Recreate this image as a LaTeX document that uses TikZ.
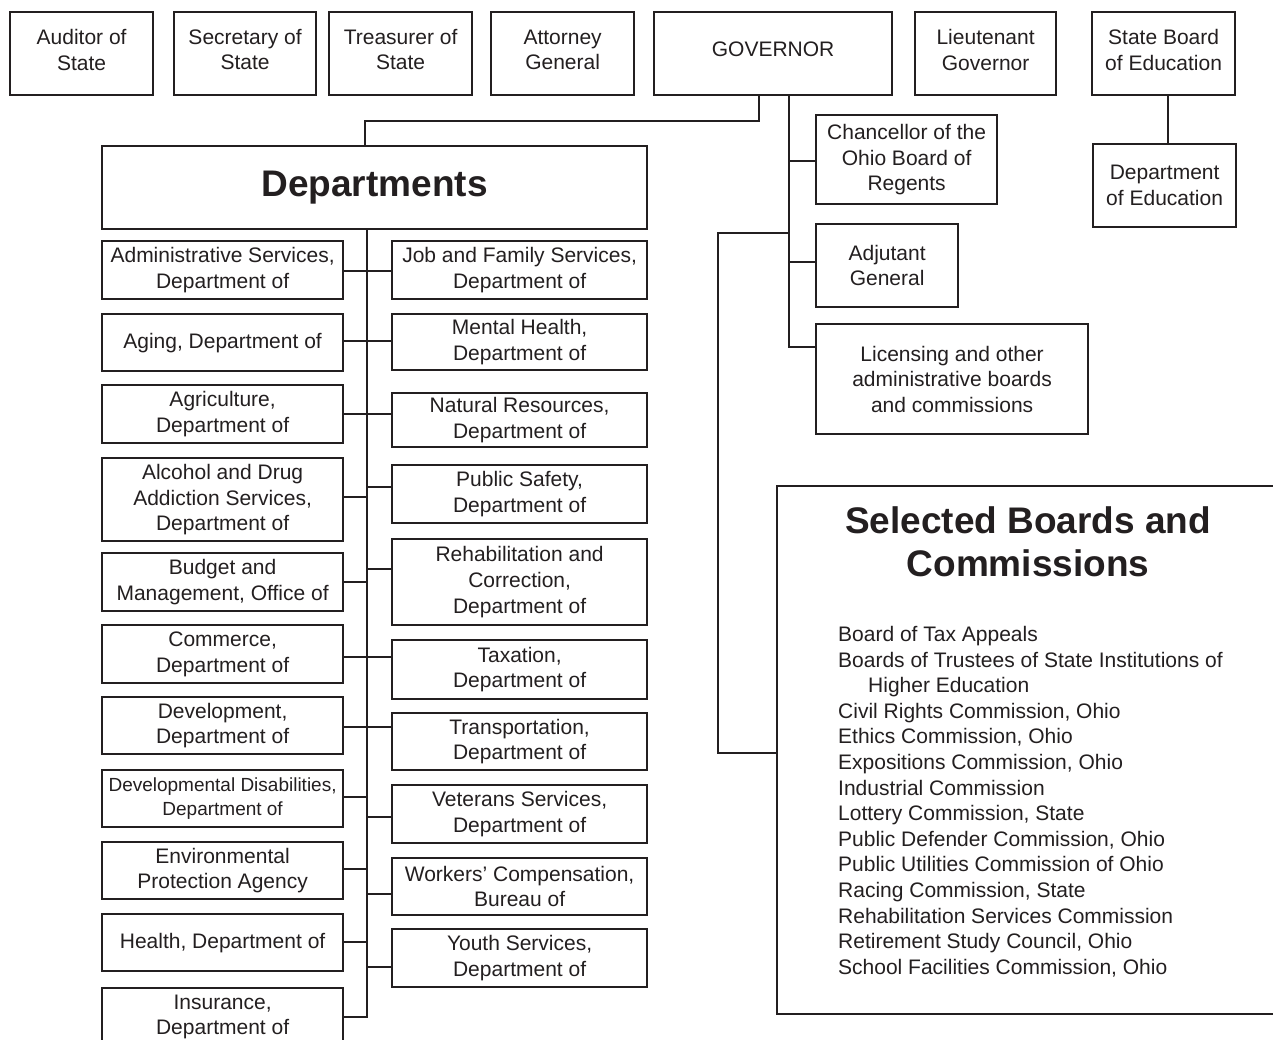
\documentclass[tikz,border=0pt]{standalone}
\usepackage{fontspec}
\setmainfont{Liberation Sans}
\definecolor{lc}{HTML}{231F20}
\tikzset{
  x=1pt, y=-1pt,
  ln/.style={line width=2.2pt, draw=lc},
  obx/.style={draw=lc, line width=2.2pt, inner sep=0pt, align=center, text=lc,
     anchor=north west, font=\fontsize{21}{25.6}\selectfont},
  toprow/.style={text depth=8pt},
}
\newcommand\obox[7][]{\node[obx, #1, minimum width={#5-#3}, minimum height={#6-#4}] (#2) at (#3,#4) {#7};}
\begin{document}
\begin{tikzpicture}
\useasboundingbox (0,0) rectangle (1273,1040);
\fill[white] (0,0) rectangle (1273,1040);
\clip (0,0) rectangle (1273,1040);

% top row
\obox[toprow]{aud}{9}{11}{152}{94}{Auditor of\\State}
\obox[toprow]{sec}{173}{11}{315}{94}{Secretary of\\State}
\obox[toprow]{tre}{328}{11}{471}{94}{Treasurer of\\State}
\obox[toprow]{att}{490}{11}{633}{94}{Attorney\\General}
\obox[toprow]{gov}{653}{11}{891}{94}{GOVERNOR}
\obox[toprow]{lt}{914}{11}{1055}{94}{Lieutenant\\Governor}
\obox[toprow]{sbe}{1091}{11}{1234}{94}{State Board\\of Education}
\obox{doe}{1092}{143}{1235}{226}{Department\\of Education}

% governor side
\obox{chan}{815}{114}{996}{203}{Chancellor of the\\Ohio Board of\\Regents}
\obox{adj}{815}{223}{957}{306}{Adjutant\\General}
\obox{lic}{815}{323}{1087}{433}{Licensing and other\\administrative boards\\and commissions}

% departments
\node[obx, minimum width=545, minimum height=83, font=\fontsize{37}{43}\selectfont\bfseries] (dep) at (101,145) {Departments};

% left column
\obox{adm}{101}{240}{342}{298}{Administrative Services,\\Department of}
\obox{agi}{101}{313}{342}{370}{Aging, Department of}
\obox{agr}{101}{384}{342}{442}{Agriculture,\\Department of}
\obox{alc}{101}{457}{342}{540}{Alcohol and Drug\\Addiction Services,\\Department of}
\obox{bud}{101}{552}{342}{610}{Budget and\\Management, Office of}
\obox{com}{101}{624}{342}{682}{Commerce,\\Department of}
\obox{dev}{101}{696}{342}{753}{Development,\\Department of}
\node[obx, minimum width=241, minimum height=57, font=\fontsize{19}{24}\selectfont] (dds) at (101,769) {Developmental Disabilities,\\Department of};
\obox{env}{101}{841}{342}{898}{Environmental\\Protection Agency}
\obox{hea}{101}{913}{342}{970}{Health, Department of}
\obox{ins}{101}{987}{342}{1045}{Insurance,\\Department of}

% right column
\obox{job}{391}{240}{646}{298}{Job and Family Services,\\Department of}
\obox{men}{391}{313}{646}{369}{Mental Health,\\Department of}
\obox{nat}{391}{392}{646}{446}{Natural Resources,\\Department of}
\obox{pub}{391}{464}{646}{522}{Public Safety,\\Department of}
\obox{reh}{391}{538}{646}{624}{Rehabilitation and\\Correction,\\Department of}
\obox{tax}{391}{639}{646}{698}{Taxation,\\Department of}
\obox{tra}{391}{712}{646}{769}{Transportation,\\Department of}
\obox{vet}{391}{784}{646}{842}{Veterans Services,\\Department of}
\obox{wor}{391}{857}{646}{914}{Workers’ Compensation,\\Bureau of}
\obox{you}{391}{928}{646}{986}{Youth Services,\\Department of}

% boards box
\node[obx, minimum width=540, minimum height=528] (brd) at (776,485) {};
\node[font=\fontsize{37}{43}\selectfont\bfseries, text=lc, align=center, inner sep=0pt] (brdt) at (1028,542) {Selected Boards and\\Commissions};
\foreach \t [count=\i from 0] in {Board of Tax Appeals, Boards of Trustees of State Institutions of, \hspace*{30pt}Higher Education, {Civil Rights Commission, Ohio}, {Ethics Commission, Ohio}, {Expositions Commission, Ohio}, Industrial Commission, {Lottery Commission, State}, {Public Defender Commission, Ohio}, Public Utilities Commission of Ohio, {Racing Commission, State}, Rehabilitation Services Commission, {Retirement Study Council, Ohio}, {School Facilities Commission, Ohio}}
  \node[anchor=base west, inner sep=0pt, text=lc, font=\fontsize{21}{25.6}\selectfont] (bl\i) at (838,641.5+25.6*\i) {\t};

% connectors: governor
\coordinate (gA) at (759,121);
\coordinate (gB) at (365,121);
\draw[ln] (gov.south -| gA) -- (gA) -- (gB) -- (dep.north -| gB);
\coordinate (t1) at (789,161);
\coordinate (t2) at (789,262);
\coordinate (t3) at (789,347);
\coordinate (t4) at (789,233);
\draw[ln] (gov.south -| t3) -- (t3) -- (lic.west |- t3);
\draw[ln] (t1) -- (chan.west |- t1);
\draw[ln] (t2) -- (adj.west |- t2);
\coordinate (bA) at (718,233);
\coordinate (bB) at (718,753);
\draw[ln] (t4) -- (bA) -- (bB) -- (brd.west |- bB);
\coordinate (sx) at (1168,100);
\draw[ln] (sbe.south -| sx) -- (doe.north -| sx);

% connectors: departments
\coordinate (dT) at (367,1017);
\draw[ln] (dep.south -| dT) -- (dT) -- (ins.east |- dT);
\foreach \n/\yy in {adm/271, agi/341, agr/414, alc/497, bud/582, com/657, dev/727, dds/797, env/869, hea/942}{
  \coordinate (j\n) at (367,\yy);
  \draw[ln] (\n.east |- j\n) -- (j\n);
}
\foreach \n/\yy in {job/271, men/341, nat/414, pub/487, reh/569, tax/657, tra/727, vet/817, wor/894, you/967}{
  \coordinate (j\n) at (367,\yy);
  \draw[ln] (j\n) -- (\n.west |- j\n);
}
\end{tikzpicture}
\end{document}
